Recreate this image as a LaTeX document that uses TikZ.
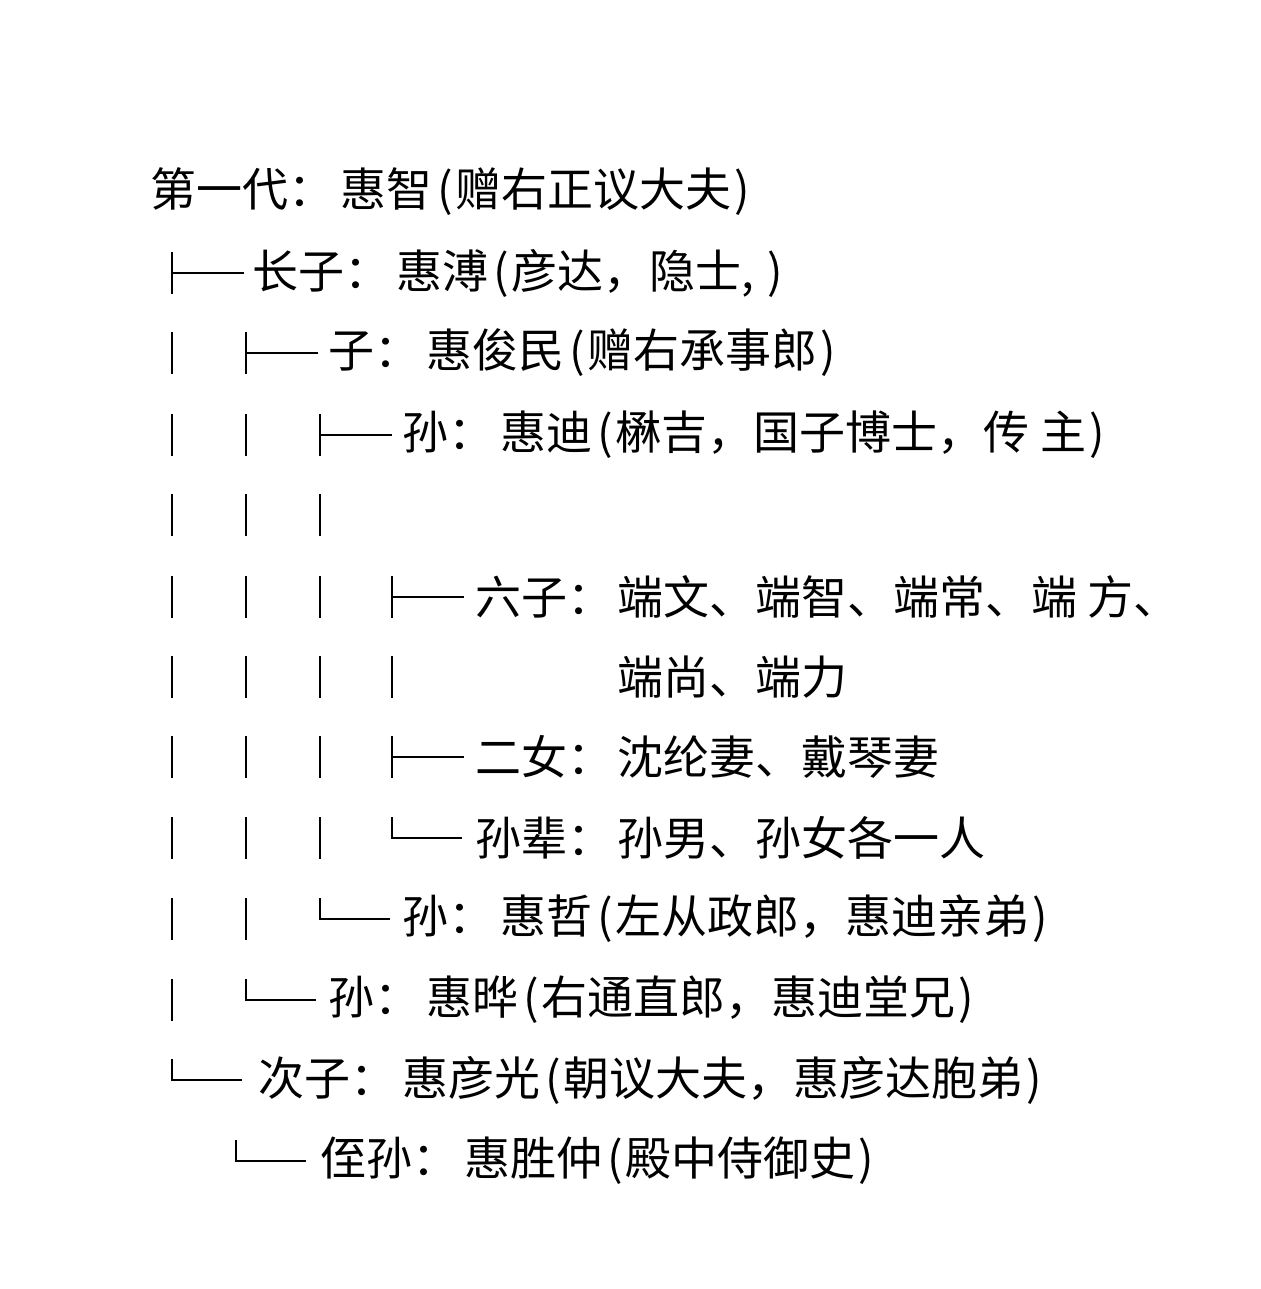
\documentclass[tikz,border=0pt]{standalone}
\usepackage{fontspec}
\setmainfont{Noto Sans CJK SC}
\newcommand{\lp}{\kern5pt(\kern3pt}
\newcommand{\rp}{\kern3pt)\kern4pt}
\newcommand{\cl}{：\kern6pt}
\begin{document}
\begin{tikzpicture}[x=1pt,y=-1pt,
  txt/.style={anchor=west,inner sep=0pt,font=\fontsize{46}{50}\selectfont},
  br/.style={line width=1.6pt}]
\useasboundingbox (0,0) rectangle (1260,1289);
\def\h{21}
% vertical bars (│) per row
\foreach \x/\y in {172/353,172/435,246/435,172/515,246/515,320/515,
  172/597,246/597,320/597,172/677,246/677,320/677,392/677,
  172/757,246/757,320/757,172/838,246/838,320/838,172/919,246/919,172/1000}
  \draw[br] (\x,\y-\h) -- (\x,\y+\h);
% ├ branches
\foreach \x/\y in {172/273,246/353,320/435,392/597,392/757}
  \draw[br] (\x,\y-\h) -- (\x,\y+\h) (\x,\y) -- (\x+72,\y);
% └ branches
\foreach \x/\y in {392/838,320/919,246/1000,172/1080,236/1161}
  \draw[br] (\x,\y-\h) -- (\x,\y) -- (\x+70,\y);
\node[txt] (r1) at (150,192) {第一代\cl 惠智\lp 赠右正议大夫\rp};
\node[txt] (r2) at (252,273) {长子\cl 惠溥\lp 彦达，隐士, \rp};
\node[txt] (r3) at (328,353) {子\cl 惠俊民\lp 赠右承事郎\rp};
\node[txt] (r4) at (402,435) {孙\cl 惠迪\lp 楙吉，国子博士，传 主\rp};
\node[txt] (r6a) at (475,597) {六子：};
\node[txt] (r6b) at (617,597) {端文、端智、端常、端 方、};
\node[txt] (r7) at (617,677) {端尚、端力};
\node[txt] (r8a) at (475,757) {二女：};
\node[txt] (r8b) at (617,757) {沈纶妻、戴琴妻};
\node[txt] (r9a) at (475,838) {孙辈：};
\node[txt] (r9b) at (617,838) {孙男、孙女各一人};
\node[txt] (r10) at (402,919) {孙\cl 惠哲\lp 左从政郎，惠迪亲弟\rp};
\node[txt] (r11) at (328,1000) {孙\cl 惠晔\lp 右通直郎，惠迪堂兄\rp};
\node[txt] (r12) at (258,1080) {次子\cl 惠彦光\lp 朝议大夫，惠彦达胞弟\rp};
\node[txt] (r13) at (320,1161) {侄孙\cl 惠胜仲\lp 殿中侍御史\rp};
\end{tikzpicture}
\end{document}
